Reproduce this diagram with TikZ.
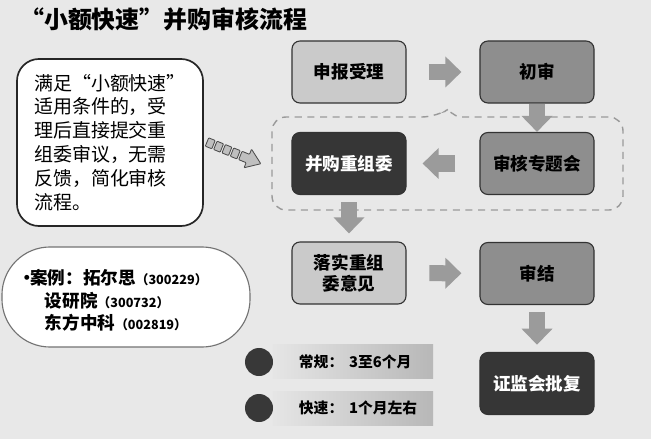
\documentclass[tikz,border=0pt]{standalone}
\usepackage{fontspec}
\setmainfont{Noto Sans CJK SC}
\usetikzlibrary{arrows.meta,positioning,calc}
\definecolor{paper}{HTML}{E8E8E8}
\definecolor{lightbox}{HTML}{CACACA}
\definecolor{midbox}{HTML}{8E8E8E}
\definecolor{darkbox}{HTML}{363636}
\definecolor{arrowgray}{HTML}{9B9B9B}
\definecolor{dashgray}{HTML}{9A9A9A}

\begin{document}
\begin{tikzpicture}[x=0.025cm,y=-0.025cm,
  stage/.style={draw=black!80,line width=0.8pt,rounded corners=0.2cm,minimum width=2.85cm,minimum height=1.55cm,align=center,font=\bfseries\fontsize{12.5}{15}\selectfont},
  light/.style={stage,fill=lightbox},
  mid/.style={stage,fill=midbox},
  dark/.style={stage,fill=darkbox,text=white},
  blockarrow/.style={draw=arrowgray,line width=0.4cm,-{Triangle[length=0.4cm,width=0.75cm]}},
  ptr/.style={draw=black!70,line width=0.6pt,fill=black!25,rounded corners=0.5pt},
  legendbar/.style={left color=black!10,right color=black!28,minimum width=4cm,minimum height=0.825cm},
  dot/.style={circle,fill=black!78,minimum size=0.7cm,inner sep=0pt},
  legendtext/.style={anchor=west,font=\bfseries\fontsize{10.5}{12}\selectfont},
  casetext/.style={anchor=west,font=\bfseries\fontsize{12.5}{15}\selectfont}]
\useasboundingbox (0,0) rectangle (651,439);
\fill[paper] (0,0) rectangle (651,439);

% title
\node[anchor=west,inner sep=0pt,font=\bfseries\fontsize{17}{20}\selectfont] (title) at (20,19) {“小额快速”并购审核流程};

% dashed group round the committee steps
\draw[dashgray,line width=1pt,dash pattern=on 5pt off 4pt,rounded corners=0.35cm]
  (272,165) -- (272,117) -- (436,117) [rounded corners=2pt] -- (447,110) -- (458,117) [rounded corners=0.35cm] -- (623,117) -- (623,210) -- (272,210) -- cycle;

% stages
\node[light] (filing) at (349,72) {申报受理};
\node[mid] (prelim) at (537,72) {初审};
\node[mid] (topic) at (537,163.5) {审核专题会};
\node[dark] (mrc) at (349,163.5) {并购重组委};
\node[light] (opinion) at (349,273) {落实重组\\委意见};
\node[mid] (closing) at (537,273.5) {审结};
\node[dark] (csrc) at (537,383.5) {证监会批复};

\draw[blockarrow,shorten <=0.55cm,shorten >=0.45cm] (filing) -- (prelim);
\draw[blockarrow,line width=0.38cm] (prelim) -- (topic);
\draw[blockarrow,shorten <=0.6cm,shorten >=0.4cm] (topic) -- (mrc);
\draw[blockarrow,shorten <=0.18cm,shorten >=0.2cm] (mrc) -- (opinion);
\draw[blockarrow,shorten <=0.57cm,shorten >=0.45cm] (opinion) -- (closing);
\draw[blockarrow,shorten <=0.18cm,shorten >=0.18cm] (closing) -- (csrc);

% note bubble
\node[draw=black!85,line width=1.2pt,fill=white,rounded corners=0.55cm,minimum width=4.65cm,minimum height=4.175cm,align=left,font=\fontsize{13.5}{17}\selectfont] (note) at (110,142.5)
  {满足“小额快速”\\适用条件的，受\\理后直接提交重\\组委审议，无需\\反馈，简化审核\\流程。};

% dotted pointer
\begin{scope}[shift={(207,142)},rotate=-22]
  \foreach \t in {0,9,18,27} \draw[ptr] (\t,-4.5) rectangle ++(7,9);
  \draw[ptr] (36,-4.5) -- (44,-4.5) -- (44,-10) -- (58,0) -- (44,10) -- (44,4.5) -- (36,4.5) -- cycle;
\end{scope}

% cases
\node[draw=black!55,line width=0.8pt,fill=white,rounded corners=1.2cm,minimum width=6.2cm,minimum height=2.5cm] (cases) at (126,297) {};
\node[casetext] (case1) at (14,278) {•\hspace{-0.35em}案例：拓尔思{\fontsize{9}{10}\selectfont（300229）}};
\node[casetext] (case2) at (40,301) {设研院{\fontsize{9}{10}\selectfont（300732）}};
\node[casetext] (case3) at (40,323) {东方中科{\fontsize{9}{10}\selectfont（002819）}};

% legend
\node[legendbar] (regbar) at (353,361.5) {};
\node[legendbar] (fastbar) at (353,408.5) {};
\node[dot] (regdot) at (259,362) {};
\node[dot] (fastdot) at (259,408) {};
\node[legendtext] (regtext) at (294,362) {常规：\hspace{0.4em}3至6个月};
\node[legendtext] (fasttext) at (294,408) {快速：\hspace{0.4em}1个月左右};
\end{tikzpicture}
\end{document}
